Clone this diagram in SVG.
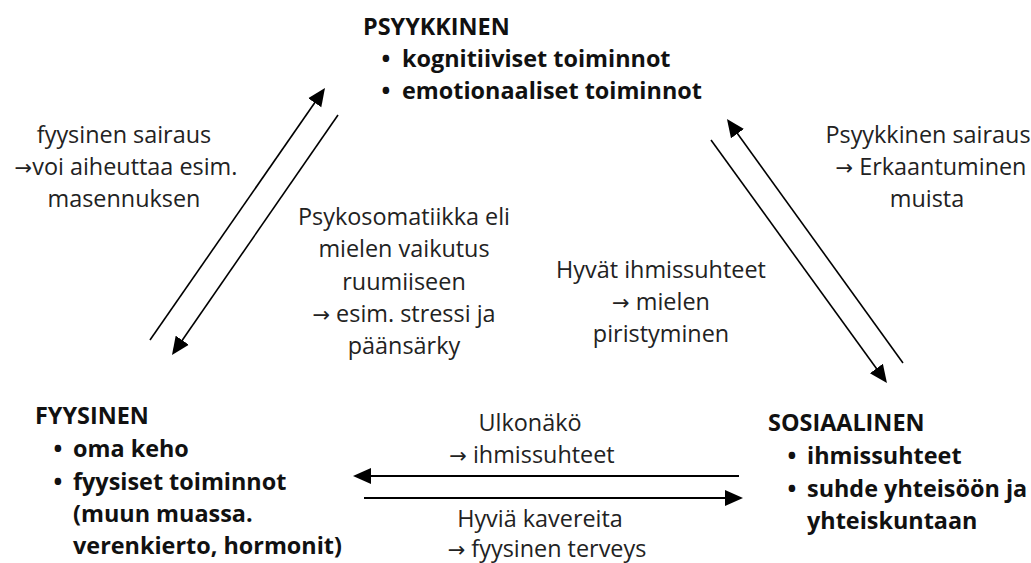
<svg xmlns="http://www.w3.org/2000/svg" width="1031" height="563" viewBox="0 0 1031 563">
<style>
text{font-family:"Open Sans","Noto Sans","Liberation Sans",sans-serif;fill:#111;font-size:23.4px}
.b{font-weight:bold}
.r{font-weight:normal;fill:#222}
.c{text-anchor:middle}
.bul{text-anchor:middle;font-weight:bold}
.ar{font-family:"DejaVu Sans",sans-serif;font-size:21px}
.ln{stroke:#000;stroke-width:1.6;fill:none}
.hl{stroke:#000;stroke-width:2.2;fill:none}
</style>
<defs>
<marker id="ah" markerUnits="userSpaceOnUse" markerWidth="18" markerHeight="18" viewBox="0 0 18 18" refX="14" refY="9" orient="auto">
<path d="M0,1 L18,9 L0,17 z" fill="#000"/>
</marker>
</defs>
<g id="connectors">
<line class="ln" x1="150" y1="340" x2="322.7" y2="91.3" marker-end="url(#ah)"/>
<line class="ln" x1="338" y1="115" x2="174.3" y2="351.7" marker-end="url(#ah)"/>
<line class="ln" x1="903" y1="363" x2="729.3" y2="122.3" marker-end="url(#ah)"/>
<line class="ln" x1="711" y1="140" x2="884.6" y2="379.8" marker-end="url(#ah)"/>
<line class="hl" x1="739" y1="476" x2="357" y2="476" marker-end="url(#ah)"/>
<line class="hl" x1="364" y1="498" x2="739" y2="498" marker-end="url(#ah)"/>
</g>
<g id="psyykkinen">
<text class="b" x="363" y="35">PSYYKKINEN</text>
<text class="bul" x="386" y="67">•</text>
<text class="b" x="402" y="67">kognitiiviset toiminnot</text>
<text class="bul" x="386" y="99">•</text>
<text class="b" x="402" y="99">emotionaaliset toiminnot</text>
</g>
<g id="fyysinen">
<text class="b" x="35" y="424">FYYSINEN</text>
<text class="bul" x="58" y="457">•</text>
<text class="b" x="73" y="457">oma keho</text>
<text class="bul" x="58" y="490">•</text>
<text class="b" x="73" y="490">fyysiset toiminnot</text>
<text class="b" x="73" y="522">(muun muassa.</text>
<text class="b" x="73" y="554">verenkierto, hormonit)</text>
</g>
<g id="sosiaalinen">
<text class="b" x="768" y="431">SOSIAALINEN</text>
<text class="bul" x="792" y="464">•</text>
<text class="b" x="807" y="464">ihmissuhteet</text>
<text class="bul" x="792" y="497">•</text>
<text class="b" x="807" y="497">suhde yhteisöön ja</text>
<text class="b" x="807" y="529">yhteiskuntaan</text>
</g>
<g id="label-fyysinen-sairaus">
<text class="r c" x="124" y="143">fyysinen sairaus</text>
<text class="r c" x="126" y="175"><tspan class="ar">→</tspan>voi aiheuttaa esim.</text>
<text class="r c" x="124" y="207">masennuksen</text>
</g>
<g id="label-psyykkinen-sairaus">
<text class="r c" x="928" y="143">Psyykkinen sairaus</text>
<text class="r c" x="931" y="175"><tspan class="ar">→</tspan> Erkaantuminen</text>
<text class="r c" x="927" y="207">muista</text>
</g>
<g id="label-psykosomatiikka">
<text class="r c" x="404" y="225">Psykosomatiikka eli</text>
<text class="r c" x="404" y="257">mielen vaikutus</text>
<text class="r c" x="404" y="290">ruumiiseen</text>
<text class="r c" x="404" y="322"><tspan class="ar">→</tspan> esim. stressi ja</text>
<text class="r c" x="404" y="354">päänsärky</text>
</g>
<g id="label-hyvat">
<text class="r c" x="661" y="278">Hyvät ihmissuhteet</text>
<text class="r c" x="661" y="310"><tspan class="ar">→</tspan> mielen</text>
<text class="r c" x="661" y="342">piristyminen</text>
</g>
<g id="label-ulkonako">
<text class="r c" x="530" y="431">Ulkonäkö</text>
<text class="r c" x="532" y="463"><tspan class="ar">→</tspan> ihmissuhteet</text>
</g>
<g id="label-kavereita">
<text class="r c" x="540" y="527">Hyviä kavereita</text>
<text class="r c" x="547" y="557"><tspan class="ar">→</tspan> fyysinen terveys</text>
</g>
</svg>
